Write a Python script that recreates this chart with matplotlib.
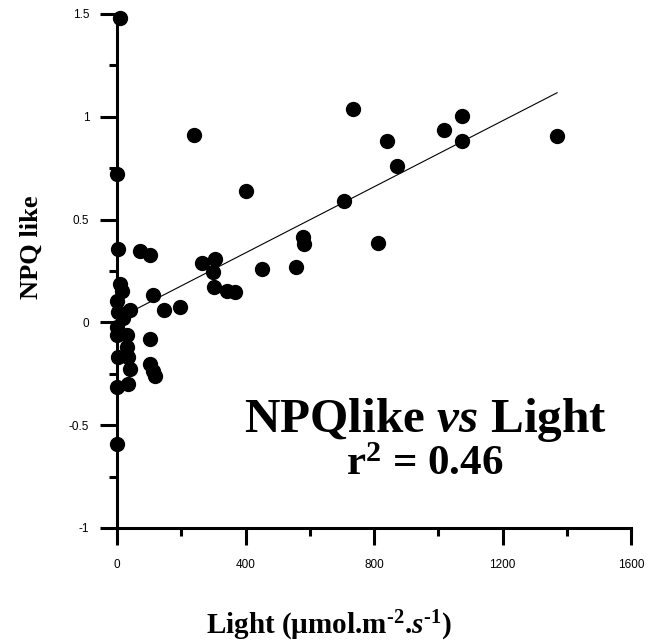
import matplotlib
matplotlib.use("Agg")
import matplotlib.pyplot as plt
import numpy as np
from matplotlib.ticker import MultipleLocator

# light (umol m-2 s-1) and NPQ-like values
light = [8, 0, 240, 735, 1019, 841, 871, 402, 707, 579, 582, 814,
         265, 304, 300, 452, 556, 303, 341, 366, 113, 145, 197,
         1074, 1074, 1370, 4, 72, 103, 9, 15, 0, 40, 4, 20, 0, 0,
         30, 103, 30, 4, 35, 40, 103, 113, 118, 0, 35, 0]
npq = [1.48, 0.72, 0.91, 1.04, 0.935, 0.883, 0.762, 0.64, 0.592, 0.415, 0.383, 0.388,
       0.29, 0.31, 0.244, 0.26, 0.268, 0.173, 0.152, 0.149, 0.132, 0.062, 0.077,
       1.005, 0.882, 0.908, 0.357, 0.345, 0.33, 0.188, 0.152, 0.105, 0.058, 0.05, 0.02, -0.02, -0.063,
       -0.063, -0.08, -0.12, -0.17, -0.168, -0.225, -0.2, -0.235, -0.26, -0.314, -0.298, -0.59]

# regression line end points as drawn
fit_x = [0, 1370]
fit_y = [0.017, 1.117]

xticks = [0, 400, 800, 1200, 1600]
xtick_labels = ['0', '400', '800', '1200', '1600']
yticks = [-1, -0.5, 0, 0.5, 1, 1.5]
ytick_labels = ['-1', '-0.5', '0', '0.5', '1', '1.5']

plt.rcParams['mathtext.fontset'] = 'custom'
plt.rcParams['mathtext.rm'] = 'Liberation Serif:bold'
plt.rcParams['mathtext.bf'] = 'Liberation Serif:bold'
plt.rcParams['mathtext.it'] = 'Liberation Serif:italic:bold'

fig = plt.figure(figsize=(6.51, 6.43), dpi=100)
ax = fig.add_axes([117/651, 1 - 528/643, 514/651, 514/643])

ax.plot(fit_x, fit_y, color='black', lw=0.8, zorder=2)
ax.plot(light, npq, 'o', color='black', markersize=10, clip_on=False, zorder=3)

ax.set_xlim(0, 1600)
ax.set_ylim(-1, 1.5)
ax.set_xticks(xticks)
ax.set_xticklabels(xtick_labels)
ax.set_yticks(yticks)
ax.set_yticklabels(ytick_labels)
ax.xaxis.set_minor_locator(MultipleLocator(200))
ax.yaxis.set_minor_locator(MultipleLocator(0.25))

for s in ['top', 'right']:
    ax.spines[s].set_visible(False)
for s in ['left', 'bottom']:
    ax.spines[s].set_linewidth(2.2)

ax.tick_params(which='major', length=12, width=2.2, direction='out')
ax.tick_params(which='minor', length=6, width=2.2, direction='out')
ax.tick_params(axis='y', pad=8)
ax.tick_params(axis='x', pad=10)
for lab in ax.get_xticklabels() + ax.get_yticklabels():
    lab.set_fontfamily('Liberation Sans')
    lab.set_fontsize(8.5)

fig.text(31/651, 1 - 247/643, 'NPQ like', rotation=90, ha='center', va='center',
         family='Liberation Serif', weight='bold', fontsize=19)
fig.text(329/651, 1 - 634/643, 'Light (µmol.m$^{\u20102}$.$\\mathit{s}^{\u20101}$)', ha='center',
         va='baseline', family='Liberation Serif', weight='bold', fontsize=21)

fig.text(425/651, 1 - 432/643, r'NPQlike $\mathit{vs}$ Light', ha='center', va='baseline',
         family='Liberation Serif', weight='bold', fontsize=35.5)
fig.text(425/651, 1 - 475/643, r'r$^{2}$ = 0.46', ha='center', va='baseline',
         family='Liberation Serif', weight='bold', fontsize=31)

fig.savefig('out.png', dpi=100)
